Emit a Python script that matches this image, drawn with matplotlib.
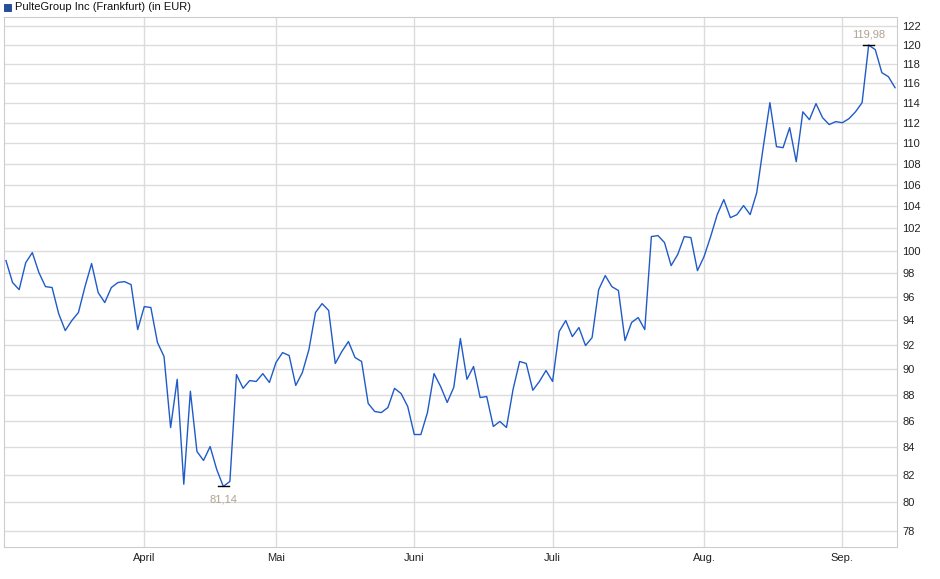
import matplotlib
matplotlib.use("Agg")
import matplotlib.pyplot as plt
import matplotlib.ticker as mticker
import pandas as pd
import numpy as np

plt.rcParams['font.family'] = ['Liberation Sans', 'DejaVu Sans']

prices = [99.12, 97.21, 96.60, 98.94, 99.82, 98.07, 96.86, 96.78, 94.57, 93.16,
          93.99, 94.66, 96.86, 98.86, 96.35, 95.50, 96.78, 97.21, 97.29, 97.03,
          93.24, 95.16, 95.08, 92.18, 91.04, 85.49, 89.22, 81.30, 88.28, 83.69,
          83.03, 84.06, 82.37, 81.14, 81.50, 89.60, 88.51, 89.12, 89.05, 89.67,
          88.97, 90.56, 91.36, 91.12, 88.74, 89.75, 91.60, 94.66, 95.41, 94.83,
          90.48, 91.44, 92.26, 90.96, 90.64, 87.33, 86.71, 86.63, 87.02, 88.51,
          88.10, 87.10, 84.96, 84.96, 86.63, 89.67, 88.65, 87.41, 88.59, 92.50,
          89.22, 90.24, 87.79, 87.87, 85.57, 85.95, 85.49, 88.43, 90.64, 90.48,
          88.36, 89.05, 89.92, 89.05, 93.08, 93.99, 92.66, 93.41, 91.93, 92.58,
          96.60, 97.81, 96.86, 96.52, 92.34, 93.83, 94.24, 93.24, 101.25, 101.34,
          100.71, 98.68, 99.65, 101.25, 101.16, 98.24, 99.47, 101.25, 103.24, 104.62,
          102.96, 103.24, 104.07, 103.24, 105.27, 109.65, 114.01, 109.65, 109.55, 111.51,
          108.20, 113.09, 112.30, 113.91, 112.50, 111.82, 112.11, 112.00, 112.40, 113.09,
          114.01, 119.98, 119.49, 117.08, 116.66, 115.53]
holidays = ["2025-04-18", "2025-04-21", "2025-05-01"]
start_date = "2025-03-03"
month_labels = ["April", "Mai", "Juni", "Juli", "Aug.", "Sep."]
month_starts = ["2025-04-01", "2025-05-01", "2025-06-01", "2025-07-01", "2025-08-01", "2025-09-01"]
yticks = list(range(78, 123, 2))
title = "PulteGroup Inc (Frankfurt) (in EUR)"

days = pd.bdate_range(start_date, periods=len(prices) + 10)
days = days[~days.isin(pd.to_datetime(holidays))][:len(prices)]
x = np.arange(len(prices))
tick_pos = [int(np.searchsorted(days, pd.Timestamp(m))) for m in month_starts]

fig = plt.figure(figsize=(9.4, 5.79), dpi=100)
ax = fig.add_axes([4/940, 1 - 547/579, 893/940, 530/579])
ax.plot(x, prices, color="#1f5bc8", lw=1.0)
ax.set_yscale("log")
ax.set_ylim(76.9, 123.0)
ax.set_xlim(-0.3, 135.3)
ax.yaxis.set_major_locator(mticker.FixedLocator(yticks))
ax.yaxis.set_minor_locator(mticker.NullLocator())
ax.yaxis.set_major_formatter(mticker.FixedFormatter([str(t) for t in yticks]))
ax.yaxis.tick_right()
ax.set_xticks(tick_pos)
ax.set_xticklabels(month_labels)
ax.tick_params(axis="both", length=0, labelsize=8, colors="#222222", pad=4)
ax.grid(True, color="#dcdcdc", lw=1)
ax.set_axisbelow(True)
for s in ax.spines.values():
    s.set_color("#cccccc")

imin = int(np.argmin(prices)); imax = int(np.argmax(prices))
for i, dy, va in [(imin, -6, "top"), (imax, 4, "bottom")]:
    ax.plot([i - 0.8, i + 0.8], [prices[i], prices[i]], color="black", lw=1)
    ax.annotate(f"{prices[i]:.2f}".replace(".", ","), (i, prices[i]), xytext=(0, dy),
                textcoords="offset points", ha="center", va=va, fontsize=8, color="#b0a290")

fig.patches.append(plt.Rectangle((4/940, 1 - 11/579), 7/940, 7/579, transform=fig.transFigure,
                                 facecolor="#1f4fa8", edgecolor="#0a2a60", lw=0.5))
fig.text(15/940, 1 - 7/579, title, fontsize=8, va="center", color="#111111")
fig.savefig("out.png", dpi=100)
